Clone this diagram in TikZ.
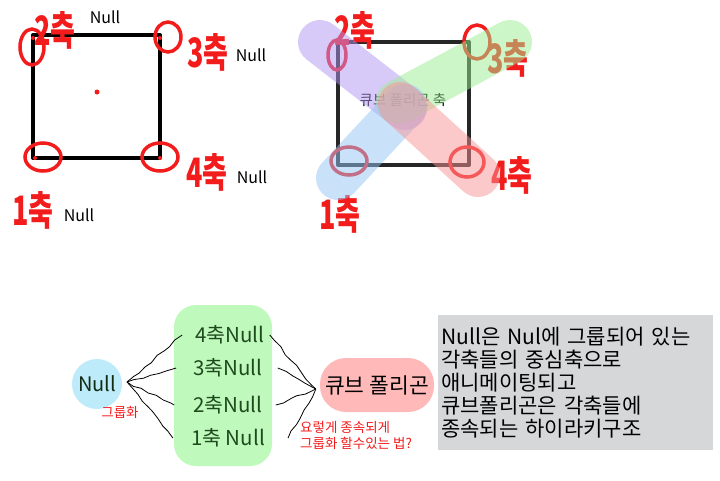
\documentclass[tikz,border=0pt]{standalone}
\usepackage{fontspec}
\setmainfont{Noto Sans CJK KR}
\usetikzlibrary{positioning, calc, decorations.pathmorphing}
\definecolor{handred}{HTML}{F21C1C}
\definecolor{bandpurple}{HTML}{B296F2}
\definecolor{bandgreen}{HTML}{9CEE92}
\definecolor{bandblue}{HTML}{94C4F4}
\definecolor{bandred}{HTML}{F89494}
\definecolor{nullblue}{HTML}{BDEBFA}
\definecolor{blobgreen}{HTML}{BFF9BC}
\definecolor{polypink}{HTML}{FFB9B9}
\definecolor{boxgray}{HTML}{D5D7D9}
\definecolor{labelgreen}{HTML}{1E4A1E}

\begin{document}
\begin{tikzpicture}[x=1pt, y=-1pt,
    frame/.style={line width=4pt, line join=round},
    ring/.style={draw=handred, line width=3.5pt},
    hand/.style={text=handred, font=\fontsize{27}{27}\selectfont\bfseries, inner sep=0pt, yscale=1.5, transform shape},
    tag/.style={font=\fontsize{16}{16}\selectfont, inner sep=0pt},
    band/.style={line width=44pt, line cap=round, opacity=0.5},
    scrawl/.style={black, line width=0.8pt, decorate, decoration={random steps, segment length=8pt, amplitude=1.2pt}},
    axisnull/.style={text=labelgreen, font=\fontsize{20.5}{20.5}\selectfont, inner sep=1pt},
    note/.style={text=handred, font=\fontsize{13.5}{16}\selectfont, align=left, inner sep=0pt}
  ]
  \useasboundingbox (0,0) rectangle (720,480);
  \pgfmathsetseed{5}

  % left sketch: square with the four null corners
  \draw[frame] (33,35) rectangle (160,158);
  \fill[handred] (97,92) circle (2.5);
  \foreach \cx/\cy in {33/38, 160/38, 35/158, 160/158}
    \fill[handred] (\cx,\cy) circle (2);
  \draw[ring] (32,47) ellipse [x radius=12, y radius=18];
  \draw[ring] (168,37) ellipse [x radius=13, y radius=15];
  \draw[ring] (43,157) ellipse [x radius=18, y radius=14];
  \draw[ring] (160,157) ellipse [x radius=18, y radius=14];
  \node[hand] (l2) at (55,30) {2축};
  \node[hand] (l3) at (208,52) {3축};
  \node[hand] (l4) at (207,172) {4축};
  \node[hand] (l1) at (33,210) {1축};
  \node[tag] (n2) at (105,17) {Null};
  \node[tag] (n3) at (251,55) {Null};
  \node[tag] (n4) at (252,177) {Null};
  \node[tag] (n1) at (79,215) {Null};

  % right sketch: axes crossing at the polygon centre
  \draw[frame, black!85] (338,42) rectangle (469,165);
  \node[font=\fontsize{14.5}{14.5}\selectfont] (cubeaxis) at (403,100) {큐브 폴리곤 축};
  \draw[ring] (337,55) ellipse [x radius=9, y radius=15];
  \draw[ring] (477,42) ellipse [x radius=13, y radius=17];
  \draw[ring] (349,161) ellipse [x radius=18, y radius=14];
  \draw[ring] (467,162) ellipse [x radius=17, y radius=15];
  \node[hand] (r2) at (355,30) {2축};
  \node[hand] (r3) at (508,58) {3축};
  \node[hand] (r4) at (512,175) {4축};
  \node[hand] (r1) at (340,214) {1축};
  \draw[band, bandpurple] (320,42) -- (405,108);
  \draw[band, bandgreen] (510,42) -- (398,102);
  \draw[band, bandblue] (338,178) -- (405,106);
  \draw[band, bandred] (478,175) -- (400,104);

  % bottom: grouping scheme
  \node[circle, fill=nullblue, minimum size=50, inner sep=0pt, text=labelgreen!60!black,
    font=\fontsize{20}{20}\selectfont] (null) at (97,384) {Null};
  \node[note] (grouping) at (120,412) {그룹화};
  \fill[blobgreen, rounded corners=22pt] (174,305) rectangle (272,466);
  \node[axisnull] (ax4) at (230,335) {4축Null};
  \node[axisnull] (ax3) at (228,368) {3축Null};
  \node[axisnull] (ax2) at (228,405) {2축Null};
  \node[axisnull] (ax1) at (228,438) {1축 Null};
  \node[fill=polypink, rounded corners=26pt, minimum width=114, minimum height=54, inner sep=0pt,
    font=\fontsize{21.5}{21.5}\selectfont] (poly) at (377,385) {큐브 폴리곤};
  \coordinate (fan) at (127,382);
  \coordinate (join) at ($(poly.west)+(-4,4)$);
  \foreach \ax/\dx in {ax4/-12, ax3/-16, ax2/-18, ax1/-17}
    \draw[scrawl] (fan) -- ([xshift=\dx]\ax.west);
  \foreach \ax/\dx in {ax4/4, ax3/14, ax2/12, ax1/22}
    \draw[scrawl] ([xshift=\dx]\ax.east) -- (join);
  \node[note, anchor=west] (question) at (300,435) {요렇게 종속되게\\그룹화 할수있는 법?};

  % explanation box
  \node[fill=boxgray, anchor=north west, minimum width=275, minimum height=135,
    text width=269, inner xsep=3, align=left,
    font=\fontsize{21}{23}\selectfont] (summary) at (438,315)
    {Null은 Nul에 그룹되어 있는\\각축들의 중심축으로\\애니메이팅되고\\큐브폴리곤은 각축들에\\종속되는 하이라키구조};
\end{tikzpicture}
\end{document}
